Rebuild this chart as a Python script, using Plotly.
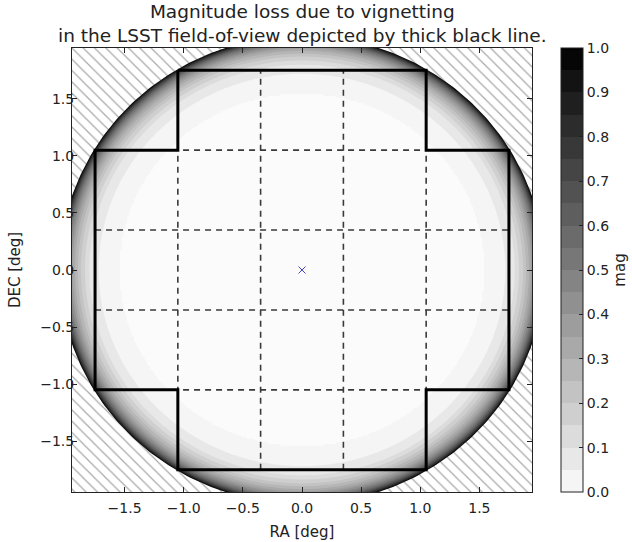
import numpy as np
import plotly.graph_objects as go

# ---- data ----
# radial magnitude-loss profile (radius in deg -> mag)
profile_r = [0.0, 1.55, 1.65, 1.72, 1.80, 1.87, 1.93, 1.97, 2.00, 2.03, 2.05, 2.40]
profile_mag = [0.0, 0.0, 0.02, 0.05, 0.10, 0.20, 0.32, 0.45, 0.58, 0.78, 1.0, 1.0]
fov_radius = 2.05          # edge of vignetted field (hatched outside)
axis_lim = 1.945

# LSST focal plane outline (thick black line), deg
outline_x = [-1.05, 1.05, 1.05, 1.75, 1.75, 1.05, 1.05, -1.05, -1.05, -1.75, -1.75, -1.05, -1.05]
outline_y = [1.75, 1.75, 1.05, 1.05, -1.05, -1.05, -1.75, -1.75, -1.05, -1.05, 1.05, 1.05, 1.75]
raft_edges = [-1.05, -0.35, 0.35, 1.05]
raft_extent = 1.75
center_ra = [0.0]
center_dec = [0.0]

axis_ticks = [-1.5, -1.0, -0.5, 0.0, 0.5, 1.0, 1.5]
cbar_ticks = [0.0, 0.1, 0.2, 0.3, 0.4, 0.5, 0.6, 0.7, 0.8, 0.9, 1.0]
title_lines = ["Magnitude loss due to vignetting",
               "in the LSST field-of-view depicted by thick black line."]

# ---- field grid ----
n = 260
gx = np.linspace(-axis_lim, axis_lim, n)
gy = np.linspace(-axis_lim, axis_lim, n)
XX, YY = np.meshgrid(gx, gy)
RR = np.hypot(XX, YY)
Z = np.round(np.interp(RR, profile_r, profile_mag), 4)

FONT = "DejaVu Sans"
TXT = "#222222"
ML, MR, MT, MB = 72, 100, 48, 50
PW, PH = 632 - ML - MR, 542 - MT - MB

fig = go.Figure()
fig.add_trace(go.Contour(
    x=gx, y=gy, z=Z,
    zmin=0, zmax=1,
    contours=dict(start=0, end=1, size=0.05, coloring="fill", showlines=False),
    line=dict(width=0),
    colorscale=[[0, "#fbfbfb"], [1, "#000000"]],
    showscale=True,
    colorbar=dict(
        thickness=22, len=1, lenmode="fraction", y=0.5, yanchor="middle",
        x=(561 - ML) / PW, xanchor="left", xpad=0, ypad=0,
        outlinewidth=1, outlinecolor=TXT,
        tickvals=cbar_ticks, ticktext=[f"{v:.1f}" for v in cbar_ticks],
        ticks="inside", ticklen=4, tickcolor=TXT,
        tickfont=dict(family=FONT, size=14, color=TXT),
        title=dict(text="mag", side="right", font=dict(family=FONT, size=15, color=TXT)),
    ),
    hoverinfo="skip",
))

# ---- hatched region outside the field ----
L = axis_lim
R = fov_radius
hx, hy = [], []
for sx, sy in [(1, 1), (-1, 1), (-1, -1), (1, -1)]:
    c = np.sqrt(R**2 - L**2)
    a1 = np.arctan2(c, L)
    a2 = np.arctan2(L, c)
    ang = np.linspace(a1, a2, 60)
    px = [L, L] + list(R * np.cos(ang)) + [c, L]
    py = [L, c] + list(R * np.sin(ang)) + [L, L]
    hx += [sx * v for v in px] + [None]
    hy += [sy * v for v in py] + [None]
fig.add_trace(go.Scatter(
    x=hx, y=hy, mode="lines", fill="toself",
    line=dict(width=0, color="rgba(0,0,0,0)"),
    fillcolor="white",
    fillpattern=dict(shape="\\", fgcolor="#555555", bgcolor="white", size=8, solidity=0.16),
    hoverinfo="skip", showlegend=False,
))

# ---- dashed raft grid ----
dx, dy = [], []
for e in raft_edges:
    dx += [e, e, None]
    dy += [-raft_extent, raft_extent, None]
    dx += [-raft_extent, raft_extent, None]
    dy += [e, e, None]
fig.add_trace(go.Scatter(
    x=dx, y=dy, mode="lines",
    line=dict(color="#3a3a3a", width=1.6, dash="6px,5px"),
    hoverinfo="skip", showlegend=False,
))

# ---- thick outline ----
fig.add_trace(go.Scatter(
    x=outline_x, y=outline_y, mode="lines",
    line=dict(color="black", width=3),
    hoverinfo="skip", showlegend=False,
))

# ---- center marker ----
fig.add_trace(go.Scatter(
    x=center_ra, y=center_dec, mode="markers",
    marker=dict(symbol="x-thin", size=7, line=dict(width=1, color="#4444cc")),
    hoverinfo="skip", showlegend=False,
))

axis_common = dict(
    range=[-axis_lim, axis_lim], tickvals=axis_ticks,
    ticktext=[f"{v:.1f}".replace("-", "\u2212") for v in axis_ticks],
    ticks="inside", ticklen=5, tickcolor=TXT,
    showline=True, linecolor=TXT, linewidth=1, mirror="ticks",
    showgrid=False, zeroline=False, automargin=False,
    tickfont=dict(family=FONT, size=14, color=TXT),
)
annotations = [
    dict(text="<br>".join(title_lines), xref="paper", yref="paper",
         x=0.5, y=1 + (MT - 23) / PH,
         xanchor="center", yanchor="middle", showarrow=False, align="center",
         font=dict(family=FONT, size=18.5, color=TXT)),
]
fig.update_layout(
    width=632, height=542,
    margin=dict(l=ML, r=MR, t=MT, b=MB, autoexpand=False),
    paper_bgcolor="white", plot_bgcolor="white",
    showlegend=False,
    annotations=annotations,
    xaxis=dict(axis_common, ticklabelstandoff=3,
               title=dict(text="RA [deg]", font=dict(family=FONT, size=15, color=TXT), standoff=11)),
    yaxis=dict(axis_common, ticklabelstandoff=-6,
               title=dict(text="DEC [deg]", font=dict(family=FONT, size=15, color=TXT), standoff=15)),
)

fig.write_html("out.html",
               config={"displayModeBar": False, "staticPlot": True},
               post_script="document.body.style.margin='0';document.body.style.padding='0';")
